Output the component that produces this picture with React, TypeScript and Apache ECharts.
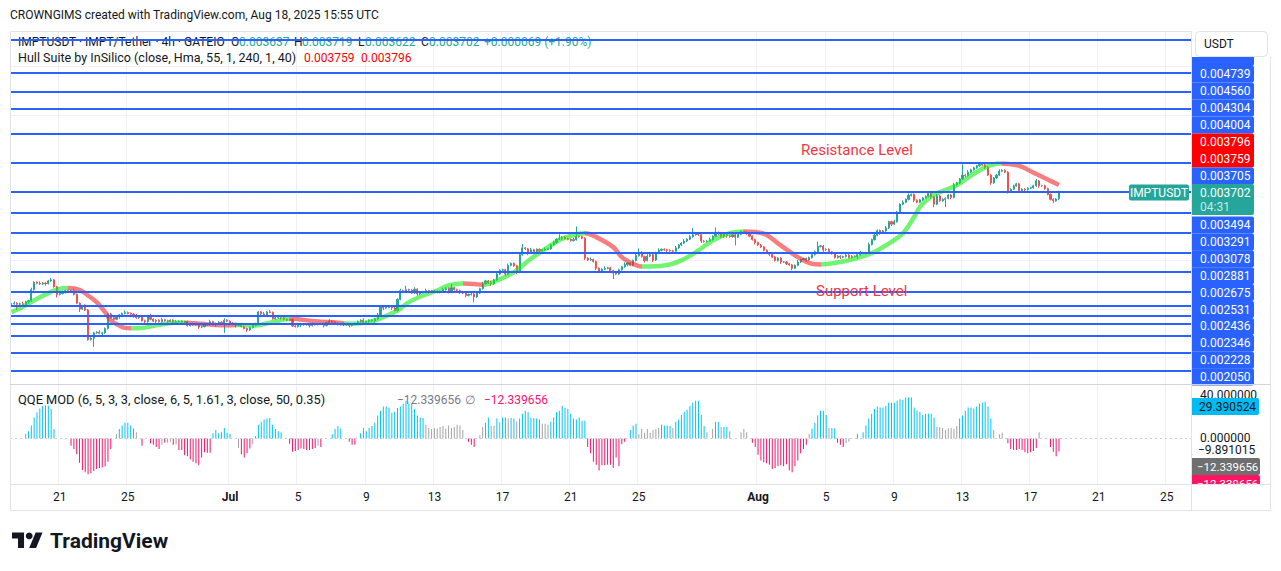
import React, { useEffect, useRef } from 'react';
import * as echarts from 'echarts';

const FONT = 'Roboto, "Liberation Sans", Arial, sans-serif';
const INK = '#131722';
const UP = '#26a69a';
const DOWN = '#ef5350';
const LEVEL_BLUE = '#2962ff';
const UNIT = 1e-6; // prices are kept in millionths of a USDT

// IMPT/USDT 4h candles, first bar 2025-06-18 04:00 UTC
const FIRST_OPEN = 2548;
const closes = [
  2555, 2560, 2550, 2555, 2545, 2575, 2585, 2700, 2775, 2765,
  2758, 2768, 2762, 2790, 2800, 2730, 2650, 2660, 2680, 2690,
  2680, 2688, 2650, 2560, 2500, 2530, 2490, 2185, 2200, 2255,
  2262, 2250, 2255, 2300, 2450, 2410, 2395, 2420, 2440, 2455,
  2465, 2455, 2448, 2430, 2410, 2420, 2380, 2370, 2430, 2395,
  2375, 2385, 2370, 2390, 2380, 2372, 2385, 2360, 2368, 2375,
  2365, 2370, 2330, 2340, 2338, 2335, 2315, 2320, 2335, 2340,
  2370, 2340, 2350, 2365, 2345, 2385, 2375, 2355, 2350, 2330,
  2345, 2320, 2300, 2285, 2310, 2330, 2340, 2470, 2450, 2440,
  2470, 2465, 2400, 2410, 2415, 2410, 2395, 2385, 2392, 2325,
  2320, 2335, 2340, 2338, 2345, 2330, 2342, 2340, 2345, 2348,
  2330, 2360, 2375, 2365, 2352, 2340, 2350, 2345, 2338, 2332,
  2345, 2350, 2372, 2385, 2360, 2370, 2385, 2378, 2400, 2440,
  2520, 2510, 2518, 2522, 2512, 2485, 2600, 2690, 2685, 2700,
  2695, 2665, 2705, 2655, 2670, 2675, 2690, 2680, 2688, 2685,
  2672, 2680, 2700, 2715, 2680, 2720, 2700, 2690, 2675, 2665,
  2640, 2650, 2655, 2625, 2665, 2710, 2760, 2790, 2770, 2760,
  2800, 2860, 2900, 2905, 2860, 2950, 2970, 2945, 2880, 3060,
  3130, 3120, 3075, 3110, 3090, 3115, 3100, 3110, 3115, 3120,
  3160, 3185, 3220, 3230, 3240, 3225, 3218, 3205, 3215, 3250,
  3245, 3230, 3025, 3005, 3010, 2990, 2920, 2880, 2910, 2920,
  2925, 2895, 2870, 2860, 2905, 2935, 2960, 2975, 2950, 3000,
  3050, 3085, 3040, 3000, 3045, 3060, 3005, 3080, 3105, 3115,
  3110, 3105, 3100, 3095, 3130, 3160, 3180, 3200, 3220, 3245,
  3265, 3275, 3265, 3200, 3195, 3200, 3215, 3250, 3290, 3280,
  3245, 3270, 3255, 3245, 3265, 3240, 3270, 3300, 3290, 3275,
  3250, 3215, 3185, 3160, 3140, 3105, 3075, 3065, 3035, 3000,
  3025, 2985, 2985, 2965, 2955, 2920, 2950, 2985, 3010, 3020,
  3005, 3030, 3060, 3090, 3145, 3150, 3110, 3115, 3090, 3070,
  3030, 3045, 3035, 3040, 3055, 3030, 3045, 3040, 3060, 3080,
  3075, 3080, 3165, 3215, 3260, 3310, 3285, 3305, 3335, 3400,
  3375, 3400, 3500, 3580, 3600, 3630, 3670, 3680, 3620, 3600,
  3625, 3645, 3660, 3690, 3655, 3580, 3665, 3615, 3630, 3640,
  3675, 3650, 3780, 3800, 3840, 3880, 3875, 3910, 3935, 3955,
  3975, 3990, 3985, 3960, 3880, 3800, 3850, 3880, 3920, 3930,
  3910, 3710, 3735, 3770, 3790, 3720, 3735, 3730, 3745, 3750,
  3770, 3820, 3770, 3770, 3740, 3680, 3630, 3615, 3633,
];
// upper / lower shadows beyond the body, in tens of millionths
const wickUp = [
  1, 2, 1, 1, 2, 1, 1, 2, 1, 1, 2, 1, 1, 1, 2, 1, 1, 2, 1, 1,
  1, 1, 2, 1, 1, 1, 2, 1, 1, 1, 1, 2, 1, 1, 1, 1, 2, 1, 1, 1,
  2, 1, 1, 1, 2, 1, 1, 1, 1, 2, 1, 1, 1, 2, 1, 1, 1, 1, 2, 1,
  1, 1, 1, 1, 2, 1, 1, 1, 1, 1, 2, 1, 1, 1, 1, 2, 1, 1, 1, 1,
  1, 1, 1, 1, 1, 1, 2, 1, 1, 2, 1, 2, 1, 1, 1, 1, 2, 1, 1, 1,
  1, 1, 1, 1, 1, 1, 2, 1, 1, 1, 1, 1, 2, 1, 1, 1, 1, 1, 1, 1,
  1, 1, 1, 1, 2, 1, 1, 1, 1, 2, 1, 1, 2, 1, 1, 1, 1, 2, 1, 4,
  1, 1, 2, 1, 1, 1, 2, 1, 1, 1, 1, 1, 2, 1, 1, 4, 1, 1, 1, 1,
  1, 1, 1, 1, 1, 1, 2, 1, 1, 2, 1, 2, 1, 1, 1, 2, 1, 1, 1, 2,
  4, 1, 1, 2, 1, 1, 1, 1, 2, 1, 1, 2, 1, 4, 1, 1, 1, 1, 2, 10,
  1, 1, 1, 1, 2, 1, 1, 1, 1, 2, 1, 1, 1, 1, 1, 1, 2, 1, 1, 1,
  2, 4, 1, 1, 2, 1, 1, 1, 2, 1, 1, 1, 1, 1, 2, 1, 1, 2, 1, 2,
  7, 1, 1, 1, 1, 1, 2, 1, 5, 1, 1, 2, 1, 1, 2, 1, 2, 1, 1, 1,
  1, 1, 1, 1, 1, 1, 1, 1, 1, 1, 1, 1, 1, 1, 1, 1, 1, 2, 1, 1,
  1, 1, 2, 1, 5, 1, 1, 1, 1, 1, 1, 1, 1, 1, 2, 1, 1, 1, 1, 2,
  1, 1, 2, 1, 2, 1, 1, 1, 2, 1, 1, 2, 1, 1, 2, 1, 2, 1, 1, 1,
  1, 1, 1, 1, 1, 1, 2, 1, 1, 1, 1, 1, 2, 1, 1, 11, 1, 2, 1, 1,
  1, 1, 2, 1, 1, 1, 1, 1, 2, 1, 1, 1, 1, 1, 1, 1, 1, 1, 1, 1,
  1, 2, 1, 1, 1, 1, 1, 1, 1,
];
const wickDn = [
  1, 1, 6, 1, 1, 1, 2, 1, 1, 1, 1, 1, 2, 1, 1, 1, 3, 1, 1, 2,
  1, 1, 1, 1, 3, 1, 1, 1, 1, 9, 1, 1, 2, 1, 1, 1, 1, 1, 2, 1,
  1, 1, 1, 2, 1, 1, 1, 2, 1, 1, 1, 2, 1, 1, 1, 2, 1, 1, 1, 1,
  2, 1, 1, 1, 1, 1, 2, 1, 1, 1, 1, 1, 2, 1, 1, 9, 1, 1, 1, 2,
  1, 1, 1, 2, 1, 1, 1, 1, 1, 1, 2, 1, 1, 1, 1, 2, 1, 1, 1, 1,
  1, 1, 2, 1, 1, 2, 1, 1, 1, 1, 2, 1, 1, 1, 1, 1, 1, 2, 1, 2,
  1, 1, 1, 2, 1, 1, 1, 1, 2, 1, 1, 2, 1, 1, 2, 1, 1, 1, 1, 1,
  2, 1, 1, 2, 1, 1, 1, 2, 1, 1, 1, 1, 1, 1, 2, 1, 1, 1, 2, 1,
  2, 1, 1, 5.5, 1, 1, 1, 1, 1, 2, 1, 1, 1, 1, 2, 1, 1, 1, 2, 1,
  1, 1, 2, 1, 1, 1, 2, 1, 1, 1, 1, 1, 1, 1, 2, 1, 1, 1, 1, 1,
  1, 1, 2, 1, 1, 1, 2, 1, 1, 1, 1, 1, 6, 1, 1, 1, 1, 2, 1, 1,
  1, 1, 1, 2, 1, 1, 2, 1, 1, 1, 1, 2, 1, 1, 1, 1, 1, 1, 1, 1,
  1, 1, 1, 2, 1, 1, 1, 1, 1, 2, 1, 1, 2, 1, 1, 8.5, 1, 1, 1, 1,
  1, 1, 2, 1, 1, 1, 1, 2, 1, 1, 1, 2, 1, 1, 1, 2, 1, 1, 1, 1,
  2, 1, 1, 1, 1, 1, 2, 1, 1, 1, 1, 1, 2, 1, 1, 1, 1, 1, 2, 1,
  1, 1, 1, 1, 1, 1, 2, 1, 1, 1, 2, 1, 1, 1, 1, 1, 1, 1, 2, 1,
  1, 1, 1, 1, 2, 3, 1, 1, 1, 8, 1, 2, 1, 1, 1, 1, 2, 1, 1, 1,
  1, 1, 1, 2, 1, 2, 1, 1, 1, 1, 1, 2, 1, 1, 1, 1, 1, 2, 1, 1,
  1, 1, 2, 1, 1, 1, 1, 2.5, 1,
];
// the live bar, as shown in the legend
const lastCandle = { open: 3637, high: 3719, low: 3622, close: 3702, change: 69, changePct: 1.9, timer: '04:31' };

// horizontal support / resistance lines drawn on the chart
const levels = [5279, 4929, 4739, 4560, 4304, 4004, 3705, 3494, 3291, 3078, 2881, 2675, 2531, 2436, 2346, 2228, 2050, 1867];
const gridLevels = [2000, 2500, 3000, 3500, 4000, 4500, 5000];

// Hull Suite band (close, Hma, 55)
const hullValues = [3796, 3759];
const hullPoints = [
  [0, 2468], [2, 2492], [6, 2554], [9, 2606], [13, 2664], [16, 2702], [20, 2716], [24, 2698],
  [27, 2640], [30, 2571], [33, 2468], [35, 2382], [38, 2330], [40, 2306], [42, 2303], [46, 2306],
  [52, 2337], [57, 2358], [61, 2360], [67, 2348], [72, 2335], [76, 2332], [81, 2337], [86, 2331],
  [92, 2365], [98, 2399], [107, 2375], [115, 2360], [120, 2348], [126, 2365], [131, 2416], [136, 2485],
  [140, 2571], [145, 2640], [150, 2691], [154, 2743], [159, 2762], [163, 2758], [166, 2750], [171, 2794],
  [177, 2880], [183, 3018], [189, 3138], [194, 3224], [200, 3276], [202, 3280], [206, 3241], [212, 3138],
  [215, 3035], [219, 2966], [222, 2939], [230, 2949], [236, 3001], [242, 3104], [247, 3207], [253, 3282],
  [258, 3300], [265, 3276], [271, 3155], [277, 3035], [282, 2966], [285, 2960], [292, 2984], [299, 3035],
  [304, 3087], [308, 3155], [314, 3280], [318, 3450], [320, 3551], [324, 3660], [328, 3715], [333, 3775],
  [338, 3875], [343, 3960], [348, 4000], [355, 3975], [360, 3905], [365, 3835], [369, 3778],
];
// bar index where the band turns rising / falling
const hullTrend = [
  [0, 'up'], [20, 'down'], [42, 'up'], [61, 'down'], [79, 'up'], [98, 'down'], [117, 'up'],
  [159, 'down'], [166, 'up'], [202, 'down'], [222, 'up'], [258, 'down'], [285, 'up'], [349, 'down'],
];

// QQE MOD histogram, one bar per candle (null = no bar)
const qqe = [
  null, null, null, null, null, 4.5, 7, 12.5, 20, 25,
  28.5, 31, 31.5, 31.5, 28, 9, null, null, null, null,
  null, -7, -10, -15, -23, -30, -32, -34, -33, -31,
  -29, -28, -27.5, -26.5, -22, -10, null, 4, 9, 12.5,
  15, 15, 12.5, 9.5, 6, null, -7, null, null, -4.5,
  -6, -8, -10, -6, -4, -4, -3, -6, -5.5, -11,
  -11, -16, -17, -20, -22, -23.5, -25.5, -18, -13, -13.5,
  -13.5, 5, 8, 5, 6, 10, 5.5, 4.5, null, null,
  -9, -15, -18, -14, -9.5, -5.5, 2.5, 13, 16, 18,
  19, 19.5, 13, 9, 7, 6, null, null, -5, -12.5,
  -12, -11, -9.5, -10, -11, -11, -10, -9, -7, -8,
  null, null, null, 4, 9, 12, 9.5, null, null, -3,
  -6, -6, null, 5, 10, 7, 10, 12, 15, 22,
  26.5, 30.5, 30.5, 29.5, 24.5, 25.5, 29, 30.5, 33, 36,
  33, 33, 28, 22, 20, 19.5, 13, 10, 9, 10,
  9.5, 11, 12, 9.5, 12.5, 10, 11, 13, 12.5, 8,
  null, -3, -6, -8, null, 3, 11, 15, 20, 12,
  12.5, 19, 15.5, 20, 20, 19, 19.5, 19, 16, 19,
  23.5, 26.5, 25, 20, 19.5, 19, 18, 14, 14, 13,
  16, 20, 25, 26.5, 31, 29, 28, 23.5, 19, 18,
  20, 17, 17, -8, -14, -22, -25, -30.5, -25.5, -25.5,
  -25, -25, -28, -18, -26.5, -5.5, -3, null, 8, 12.5,
  14, 4, 9, 5.5, 9, 5.5, 8, 9, 10, 13,
  12.5, 12.5, 12, 10, 16, 18, 22.5, 25.5, 27.5, 31,
  34, 36, 36, 22.5, 12, 6, null, 9, 16, 16,
  11, 11, 11, 7, null, null, null, 6, 9, 6,
  null, -4, -8, -15.5, -21, -22.5, -23.5, -25, -29, -28,
  -26.5, -25.5, -26.5, -24.5, -30.5, -32, -26.5, -21, -14, -10,
  -6, 4.5, 9.5, 15, 22, 26.5, 26.5, 22.5, 10, 10,
  9.5, -4, -6, -8, -4.5, -3, null, null, 4.5, null,
  6, 12.5, 19, 23.5, 28, 30.5, 29.5, 29.5, 31, 34,
  34, 34, 36, 37.5, 37, 39, 39, 39, 29.5, 26.5,
  25.5, 22.5, 23.5, 23.5, 23.5, 20, 11, 11, 10, 8,
  9.5, 10, 9, 12, 19, 22, 26.5, 29.5, 29.5, 28.5,
  30.5, 33, 34, 35, 30.5, 19, 8, null, 4, 5.5,
  null, -4.5, -10, -11, -11, -10, -11, -13, -14, -13,
  -12, -9, 6, null, null, null, -8, -12.5, -17, -12.339656,
];
// b = above upper band, p = below lower band, g = neutral
const qqeColors = [
  '.....gbbbb', 'bbbbbb....', '.ppppppppp', 'pppppp.gbb', 'bbbbg.p..p',
  'pppgpggpgp', 'pppppppppp', 'pbbbbbbb..', 'gppppgbbbb', 'bbbbbb..pp',
  'ppppppppgp', '...bbbb..p', 'pp.bbbbbbb', 'bbbbbbbbbb', 'bbbbbbgggg',
  'gggggggggg', '.ppp.ggbbg', 'gbgbbgbbgb', 'bbbbbbbggg', 'bbbbbbbbbb',
  'bbbppppppp', 'ppppppp.bb', 'bggggggggb', 'bbbgbbbbbb', 'bbbbbg.gbb',
  'gbbg...ggg', '.ppppppppp', 'pppppppppp', 'pgbbbbbbgb', 'bpppgg..b.',
  'bbbbbbbbbb', 'bbbbbbbbbb', 'bbbbbbgggg', 'ggggbbbbbb', 'bbbbbbg.gg',
  '.ppppppppp', 'ppg...pppp',
].join('');
const qqeReadout = { top: 40, upper: 29.390524, zero: 0, lower: -9.891015, hist: -12.339656 };

// time scale ticks (month names in bold)
const tickDays = ['06-21', '06-25', '07-01', '07-05', '07-09', '07-13', '07-17', '07-21', '07-25', '08-01', '08-05', '08-09', '08-13', '08-17', '08-21', '08-25'];
const tickText = ['21', '25', 'Jul', '5', '9', '13', '17', '21', '25', 'Aug', '5', '9', '13', '17', '21', '25'];

const START = Date.UTC(2025, 5, 18, 4);
const SLOTS = 416;
const categories = Array.from({ length: SLOTS }, (_, i) =>
  new Date(START + i * 4 * 3600 * 1000).toISOString().slice(5, 13)
);

const fmt = (v: number) => (v * UNIT).toFixed(6);
const fmtSigned = (v: number) => (v < 0 ? '\u2212' + Math.abs(v).toFixed(6) : v.toFixed(6));
const isTick = (v: string) => v.slice(6) === '00' && tickDays.includes(v.slice(0, 5));

function buildCandles() {
  const out: number[][] = [];
  let prev = FIRST_OPEN;
  for (let i = 0; i < closes.length; i++) {
    const o = prev;
    const c = closes[i];
    const hi = Math.max(o, c) + wickUp[i] * 10;
    const lo = Math.min(o, c) - wickDn[i] * 10;
    out.push([o * UNIT, c * UNIT, lo * UNIT, hi * UNIT]);
    prev = c;
  }
  const L = lastCandle;
  out.push([L.open * UNIT, L.close * UNIT, L.low * UNIT, L.high * UNIT]);
  return out;
}

const HULL_UP = 'rgba(20,235,20,0.6)';
const HULL_DOWN = 'rgba(240,40,40,0.6)';
const QQE_COLOR: Record<string, string> = { b: '#00c3ff', p: '#f5146e', g: '#a3a3a3' };

function text(x: number, y: number, t: string, o: any = {}) {
  return {
    type: 'text', x, y, z: o.z ?? 60, silent: true, scaleX: o.sx ?? 1,
    style: {
      text: t, fill: o.color ?? INK, fontSize: o.size ?? 12, fontFamily: FONT,
      fontWeight: o.weight ?? 'normal', align: o.align ?? 'left', verticalAlign: 'middle',
    },
  };
}
function rect(x: number, y: number, w: number, h: number, fill: string, o: any = {}) {
  return {
    type: 'rect', z: o.z ?? 60, silent: true,
    shape: { x, y, width: w, height: h, r: o.r ?? 0 },
    style: { fill, stroke: o.stroke ?? null, lineWidth: o.lw ?? 0 },
  };
}
function hline(x1: number, x2: number, y: number, color: string, z = 62) {
  return { type: 'line', z, silent: true, shape: { x1, y1: y, x2, y2: y }, style: { stroke: color, lineWidth: 1 } };
}
function vline(x: number, y1: number, y2: number, color: string, z = 62) {
  return { type: 'line', z, silent: true, shape: { x1: x, y1, x2: x, y2 }, style: { stroke: color, lineWidth: 1 } };
}

function buildGraphics() {
  const g: any[] = [];
  const L = lastCandle;
  // watermark line
  g.push(text(10, 15, 'CROWNGIMS created with TradingView.com, Aug 18, 2025 15:55 UTC', { z: 1 }));
  // legend rows
  const teal = '#22ab94';
  g.push(text(18, 42, 'IMPTUSDT \u00b7 IMPT/Tether \u00b7 4h \u00b7 GATEIO', { z: 1 }));
  g.push(text(231, 42, 'O', { z: 1 }), text(239, 42, fmt(L.open), { z: 1, color: teal }));
  g.push(text(294, 42, 'H', { z: 1 }), text(302, 42, fmt(L.high), { z: 1, color: teal }));
  g.push(text(358, 42, 'L', { z: 1 }), text(365, 42, fmt(L.low), { z: 1, color: teal }));
  g.push(text(421, 42, 'C', { z: 1 }), text(429, 42, fmt(L.close), { z: 1, color: teal }));
  g.push(text(484, 42, `+${fmt(L.change)} (+${L.changePct.toFixed(2)}%)`, { z: 1, color: teal }));
  g.push(text(18, 58, 'Hull Suite by InSilico (close, Hma, 55, 1, 240, 1, 40)', { z: 1, sx: 1.045 }));
  g.push(text(304, 58, fmt(hullValues[1]), { z: 1, color: '#ff0000' }));
  g.push(text(361, 58, fmt(hullValues[0]), { z: 1, color: '#ff0000' }));
  g.push(text(18, 400, 'QQE MOD (6, 5, 3, 3, close, 6, 5, 1.61, 3, close, 50, 0.35)', { z: 1, sx: 1.07 }));
  g.push(text(397, 400, fmtSigned(qqeReadout.hist), { z: 1, color: '#787b86' }));
  g.push(text(465, 400, '\u2205', { z: 1, color: '#787b86' }));
  g.push(text(484, 400, fmtSigned(qqeReadout.hist), { z: 1, color: '#f5146e' }));

  // annotations
  g.push(text(801, 150, 'Resistance Level', { size: 15, color: '#f23645' }));
  g.push(text(816, 291, 'Support Level', { size: 15, color: '#f23645' }));

  // price scale labels (stacked)
  const X = 1192, W = 62;
  const box = (cy: number, v: number, fill: string) => {
    g.push(rect(X, cy - 8.5, W, 17, fill, { r: [0, 2, 2, 0] }));
    g.push(text(1200, cy, fmt(v), { color: '#ffffff', z: 61 }));
  };
  // label of the level above sits under the currency box; only its edge shows
  g.push(rect(X, 48, W, 18, LEVEL_BLUE, { r: [0, 2, 2, 0] }));
  levels.slice(2, 6).forEach((v, k) => box(74 + k * 17, v, LEVEL_BLUE));
  g.push(rect(X, 133.5, W, 34, '#ff0000', { r: [0, 2, 2, 0] }));
  g.push(text(1200, 142, fmt(hullValues[0]), { color: '#ffffff', z: 61 }));
  g.push(text(1200, 159, fmt(hullValues[1]), { color: '#ffffff', z: 61 }));
  box(176, levels[6], LEVEL_BLUE);
  g.push(rect(X, 184, W, 31, UP, { r: [0, 2, 2, 0] }));
  g.push(text(1200, 192.5, fmt(L.close), { color: '#ffffff', z: 61 }));
  g.push(text(1200, 207, L.timer, { color: 'rgba(255,255,255,0.75)', z: 61 }));
  levels.slice(7, 17).forEach((v, k) => box(225 + k * 16.9, v, LEVEL_BLUE));
  // symbol tag on the last price
  g.push(rect(1129, 184.5, 60, 16, UP, { r: 2, z: 60 }));
  g.push(text(1159, 192.5, 'IMPTUSDT', { color: '#ffffff', align: 'center', z: 61 }));
  // currency box
  g.push(rect(1192, 31, 79, 26, '#ffffff', { z: 62.5 }));
  g.push(rect(1195.5, 31.5, 72, 25, '#ffffff', { r: 4, stroke: '#e0e3eb', lw: 1, z: 63 }));
  g.push(text(1204, 44, 'USDT', { z: 64 }));

  // QQE scale labels
  g.push(text(1200, 395, qqeReadout.top.toFixed(6), { z: 59 }));
  g.push(rect(X, 398, 67, 17, '#00bcf2', { r: [0, 2, 2, 0] }));
  g.push(text(1199, 406.5, fmtSigned(qqeReadout.upper), { z: 61 }));
  g.push(text(1200, 438, qqeReadout.zero.toFixed(6), { z: 59 }));
  g.push(rect(X, 443, 67, 14, '#ffffff', { z: 60 }));
  g.push(text(1198, 450, fmtSigned(qqeReadout.lower), { z: 61 }));
  g.push(rect(X, 458, 68, 17, '#6f6f6f', { r: [0, 2, 2, 0] }));
  g.push(text(1197, 466.5, fmtSigned(qqeReadout.hist), { color: '#ffffff', z: 61, size: 11.5 }));
  g.push(rect(X, 475, 68, 17, '#ff1464', { r: [0, 2, 2, 0] }));
  g.push(text(1197, 484, fmtSigned(qqeReadout.hist), { color: '#ffffff', z: 61, size: 11.5 }));
  g.push(rect(X, 485, 78, 25, '#ffffff', { z: 61.5 }));

  // frame and pane separators
  const frame = '#e0e3eb';
  g.push(rect(10.5, 31.5, 1260, 479, 'none', { stroke: frame, lw: 1, z: 62 }));
  g.push(vline(1191.5, 31, 510, frame));
  g.push(hline(10, 1270, 384.5, '#d1d4dc'));
  g.push(hline(10, 1270, 484.5, frame));

  // TradingView logo
  g.push({
    type: 'group', x: 12, y: 529, scaleX: 0.86, scaleY: 0.86, z: 60, silent: true,
    children: [
      { type: 'polygon', shape: { points: [[0, 4], [14, 4], [14, 22], [7, 22], [7, 11], [0, 11]] }, style: { fill: INK } },
      { type: 'circle', shape: { cx: 20, cy: 8, r: 4 }, style: { fill: INK } },
      { type: 'polygon', shape: { points: [[20, 22], [27.5, 4], [35.5, 4], [28, 22]] }, style: { fill: INK } },
    ],
  });
  g.push(text(50, 541, 'TradingView', { size: 21, weight: 'bold' }));
  return g;
}

export default function App() {
  const ref = useRef<HTMLDivElement>(null);

  useEffect(() => {
    document.body.style.margin = '0';
    if (!ref.current) return;
    const chart = echarts.init(ref.current, undefined, { renderer: 'svg' });

    const candles = buildCandles();
    const qqeData = qqe.map((v, i) =>
      v == null ? '-' : { value: v, itemStyle: { color: QQE_COLOR[qqeColors[i]] } }
    );
    const hullData = hullPoints.map(([i, v]) => [i, v * UNIT]);
    const pieces = hullTrend.map(([s, t], k) => ({
      gte: s as number,
      lt: k + 1 < hullTrend.length ? (hullTrend[k + 1][0] as number) : 10000,
      color: t === 'up' ? HULL_UP : HULL_DOWN,
    }));

    const splitLine = {
      show: true,
      interval: (_: number, v: string) => isTick(v),
      lineStyle: { color: '#eef0f4', width: 1 },
    };

    chart.setOption({
      animation: false,
      backgroundColor: '#ffffff',
      textStyle: { fontFamily: FONT },
      grid: [
        { left: 10, right: 90, top: 31, height: 353 },
        { left: 10, right: 90, top: 385, height: 99 },
      ],
      xAxis: [
        {
          type: 'category', gridIndex: 0, data: categories, boundaryGap: true,
          axisLine: { show: false }, axisTick: { show: false }, axisLabel: { show: false },
          splitLine,
        },
        {
          type: 'category', gridIndex: 1, data: categories, boundaryGap: true,
          axisLine: { show: false }, axisTick: { show: false },
          axisLabel: {
            show: true, margin: 7, color: INK, fontSize: 12, fontFamily: FONT,
            interval: (_: number, v: string) => isTick(v),
            formatter: (v: string) => {
              const t = tickText[tickDays.indexOf(v.slice(0, 5))];
              return /\D/.test(t) ? `{m|${t}}` : t;
            },
            rich: { m: { fontWeight: 'bold', fontSize: 12, color: INK, fontFamily: FONT } },
          },
          splitLine,
        },
      ],
      yAxis: [
        { type: 'value', gridIndex: 0, min: 1728 * UNIT, max: 5364 * UNIT, show: false, splitLine: { show: false } },
        { type: 'value', gridIndex: 1, min: -43.3, max: 50.95, show: false, splitLine: { show: false } },
      ],
      visualMap: [
        { type: 'piecewise', show: false, dimension: 0, seriesIndex: 1, pieces },
      ],
      series: [
        {
          type: 'candlestick', xAxisIndex: 0, yAxisIndex: 0, data: candles, barWidth: 1.6, z: 2,
          itemStyle: { color: UP, color0: DOWN, borderColor: UP, borderColor0: DOWN, borderWidth: 1 },
          markLine: {
            silent: true, z: 5, precision: 8, symbol: ['none', 'none'], label: { show: false },
            lineStyle: { color: LEVEL_BLUE, width: 2, type: 'solid' },
            data: [
              ...levels.map((v) => ({ yAxis: v * UNIT })),
              { yAxis: lastCandle.close * UNIT, lineStyle: { color: '#2a5fd0', width: 1, type: [1, 2] } },
            ],
          },
        },
        {
          type: 'line', xAxisIndex: 0, yAxisIndex: 0, data: hullData, smooth: 0.35,
          showSymbol: false, z: 3, silent: true,
          lineStyle: { width: 4.5 },
          markLine: {
            silent: true, z: 1, precision: 8, symbol: ['none', 'none'], label: { show: false },
            lineStyle: { color: '#eef0f4', width: 1, type: 'solid' },
            data: gridLevels.map((v) => ({ yAxis: v * UNIT })),
          },
        },
        {
          type: 'bar', xAxisIndex: 1, yAxisIndex: 1, data: qqeData, barWidth: 1, z: 2,
          markLine: {
            silent: true, symbol: ['none', 'none'], label: { show: false },
            lineStyle: { color: '#c9ccd4', width: 1, type: [2, 3] },
            data: [{ yAxis: 0 }],
          },
        },
      ],
      graphic: { elements: buildGraphics() },
    });

    return () => chart.dispose();
  }, []);

  return <div ref={ref} style={{ width: 1281, height: 571 }} />;
}
